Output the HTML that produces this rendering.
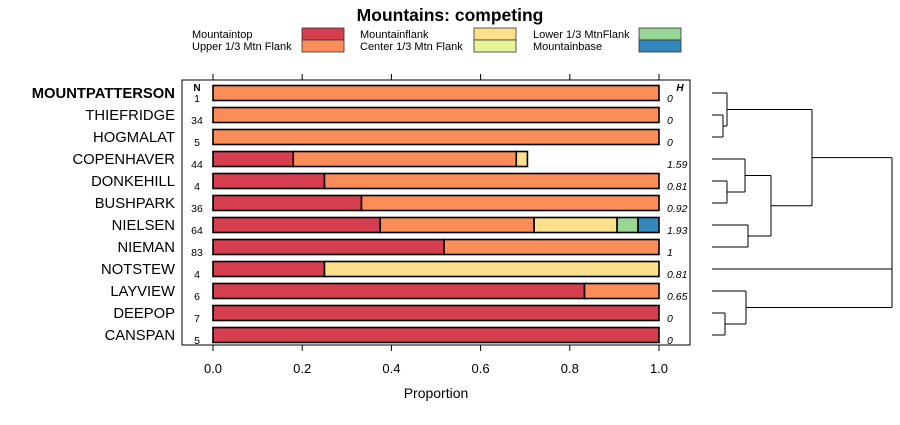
<!DOCTYPE html>
<html><head><meta charset="utf-8"><style>
body{margin:0;background:#fff;font-family:"Liberation Sans",sans-serif}
svg text{font-family:"Liberation Sans",sans-serif}
</style></head><body>
<svg id="c" width="900" height="420" xmlns="http://www.w3.org/2000/svg">
<text x="450" y="21" text-anchor="middle" font-size="17.5" font-weight="bold">Mountains: competing</text>
<g id="legend"></g>
<rect x="182" y="80" width="508" height="265" fill="none" stroke="#000"/>
<g id="axis"></g>
<g id="bars"></g>
<g id="dend" stroke="#000" fill="none"></g>
<text x="436" y="398" text-anchor="middle" font-size="14">Proportion</text>
<text x="197" y="91" text-anchor="middle" font-size="10" font-weight="bold">N</text>
<text x="680" y="91" text-anchor="middle" font-size="10" font-weight="bold" font-style="italic">H</text>
</svg>
<script>
const sites=["MOUNTPATTERSON","THIEFRIDGE","HOGMALAT","COPENHAVER","DONKEHILL","BUSHPARK","NIELSEN","NIEMAN","NOTSTEW","LAYVIEW","DEEPOP","CANSPAN"];
const nVals=[1,34,5,44,4,36,64,83,4,6,7,5];
const hVals=["0","0","0","1.59","0.81","0.92","1.93","1","0.81","0.65","0","0"];
const categories=["Mountaintop","Upper 1/3 Mtn Flank","Mountainflank","Center 1/3 Mtn Flank","Lower 1/3 MtnFlank","Mountainbase"];
const colors=["#d53e4f","#fc8d59","#fee08b","#e6f598","#99d594","#3288bd"];
const mountaintop=[0,0,0,0.18,0.25,0.333,0.375,0.518,0.25,0.833,1,1];
const upperFlank=[1,1,1,0.50,0.75,0.667,0.345,0.482,0,0.167,0,0];
const mountainflank=[0,0,0,0.025,0,0,0.186,0,0.75,0,0,0];
const centerFlank=[0,0,0,0,0,0,0,0,0,0,0,0];
const lowerFlank=[0,0,0,0,0,0,0.047,0,0,0,0,0];
const mountainbase=[0,0,0,0,0,0,0.047,0,0,0,0,0];
const series=[mountaintop,upperFlank,mountainflank,centerFlank,lowerFlank,mountainbase];
const ticks=[0,0.2,0.4,0.6,0.8,1.0];
const NS="http://www.w3.org/2000/svg";
const X=v=>213+v*446, Y=i=>93+i*22;
function mk(p,t,a){const e=document.createElementNS(NS,t);for(const k in a)e.setAttribute(k,a[k]);p.appendChild(e);return e;}
const svg=document.getElementById('c');
const lg=document.getElementById('legend');
const lx=[192,360,533],sx=[302,474,639];
categories.forEach((c,k)=>{const col=Math.floor(k/2),r=k%2;
 const t=mk(lg,'text',{x:lx[col],y:38+r*12,'font-size':11});t.textContent=c;
 
 
 const s=mk(lg,'rect',{x:sx[col],y:28+r*12,width:42,height:12,fill:colors[k],stroke:'#333','stroke-width':0.8});
 
 
});
const ax=document.getElementById('axis');
ticks.forEach(v=>{
 mk(ax,'line',{x1:X(v),x2:X(v),y1:345,y2:351,stroke:'#000'});
 mk(ax,'line',{x1:X(v),x2:X(v),y1:74,y2:80,stroke:'#000'});
 const t=mk(ax,'text',{x:X(v),y:373,'text-anchor':'middle','font-size':13});t.textContent=v.toFixed(1);
 
 
});
const bg=document.getElementById('bars');
sites.forEach((s,i)=>{
 const lab=mk(svg,'text',{x:175,y:Y(i)+5,'text-anchor':'end','font-size':14.8,'font-weight':i==0?'bold':'normal'});lab.textContent=s;
 
 
 const n=mk(svg,'text',{x:197,y:Y(i)+9,'text-anchor':'middle','font-size':10.5});n.textContent=nVals[i];
 
 
 const h=mk(svg,'text',{x:667,y:Y(i)+9,'font-size':10.5,'font-style':'italic'});h.textContent=hVals[i];
 
 
 let acc=0;
 series.forEach((ser,k)=>{const v=ser[i];if(v<=0)return;
  const r=mk(bg,'rect',{x:X(acc),y:Y(i)-7.5,width:X(acc+v)-X(acc),height:15,fill:colors[k],stroke:'#000','stroke-width':1.6});
  
  
  acc+=v;});
});
const dg=document.getElementById('dend');
const L=712;
function seg(x1,y1,x2,y2){mk(dg,'line',{x1,y1,x2,y2,'stroke-width':1});}
function join(ya,xa,yb,xb,h){seg(xa,ya,h,ya);seg(xb,yb,h,yb);seg(h,ya,h,yb);return (ya+yb)/2;}
let a=join(Y(1),L,Y(2),L,723);
let g1=join(Y(0),L,a,723,727);
let b=join(Y(4),L,Y(5),L,727);
let c2=join(Y(3),L,b,727,745);
let d=join(Y(6),L,Y(7),L,748);
let e=join(c2,745,d,748,771);
let f=join(g1,727,e,771,812);
let g=join(Y(10),L,Y(11),L,725);
let h2=join(Y(9),L,g,725,746);
seg(L,Y(8),892,Y(8));
join(f,812,h2,746,892);
</script>
</body></html>
